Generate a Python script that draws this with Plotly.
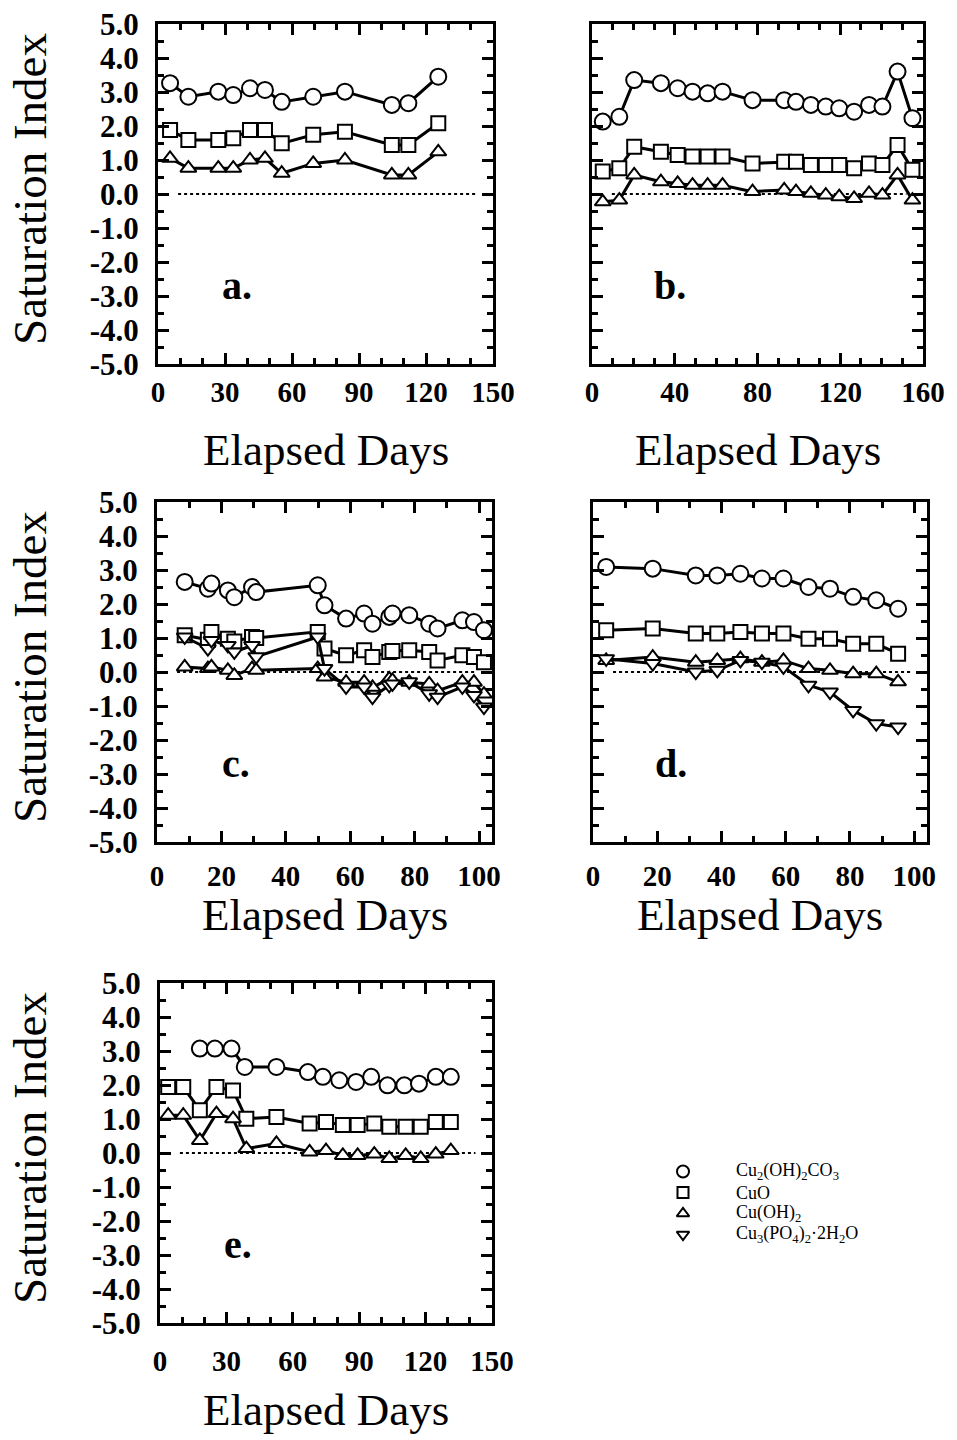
import plotly.graph_objects as go

W, H = 957, 1440

# ---------------- data ----------------
# panel a
a_x = [5.4, 13.6, 27.0, 33.7, 41.2, 47.9, 55.4, 69.5, 83.7, 104.7, 112.1, 125.5]
a_malachite = [3.26, 2.86, 3.01, 2.91, 3.11, 3.06, 2.71, 2.86, 3.01, 2.62, 2.67, 3.45]
a_tenorite = [1.88, 1.59, 1.59, 1.64, 1.88, 1.88, 1.49, 1.74, 1.83, 1.44, 1.44, 2.08]
a_cuoh2 = [1.05, 0.76, 0.76, 0.76, 1.00, 1.05, 0.61, 0.90, 1.00, 0.56, 0.56, 1.24]

# panel b
b_x = [5.2, 13.2, 20.4, 33.3, 41.4, 48.6, 55.9, 63.1, 77.6, 92.9, 98.6, 105.8,
       113.0, 119.5, 126.7, 133.9, 140.4, 147.7, 154.9]
b_malachite = [2.13, 2.27, 3.35, 3.26, 3.11, 3.01, 2.96, 3.01, 2.76, 2.76, 2.71, 2.62,
               2.57, 2.52, 2.42, 2.62, 2.57, 3.60, 2.23]
b_tenorite = [0.66, 0.76, 1.39, 1.24, 1.15, 1.10, 1.10, 1.10, 0.90, 0.95, 0.95, 0.85,
              0.85, 0.85, 0.76, 0.90, 0.85, 1.44, 0.71]
b_cuoh2 = [-0.23, -0.18, 0.56, 0.36, 0.31, 0.26, 0.26, 0.26, 0.07, 0.12, 0.07, 0.02,
           -0.03, -0.08, -0.13, 0.02, -0.03, 0.56, -0.18]

# panel c
c_x = [8.6, 15.8, 16.9, 22.0, 24.0, 29.5, 30.8, 49.9, 52.0, 58.7, 64.3, 66.9, 72.1,
       73.1, 78.3, 84.5, 87.1, 94.8, 98.4, 101.5]
c_malachite = [2.65, 2.45, 2.60, 2.40, 2.20, 2.50, 2.35, 2.55, 1.96, 1.57, 1.72, 1.42,
               1.62, 1.72, 1.67, 1.42, 1.28, 1.52, 1.47, 1.23]
c_tenorite = [1.08, 0.95, 1.18, 0.98, 0.90, 1.03, 1.00, 1.18, 0.69, 0.49, 0.64, 0.44,
              0.59, 0.62, 0.64, 0.59, 0.34, 0.49, 0.44, 0.29]
c_cuoh2 = [0.15, 0.10, 0.15, 0.05, -0.10, 0.10, 0.05, 0.10, -0.15, -0.30, -0.30, -0.45,
           -0.20, -0.25, -0.30, -0.35, -0.55, -0.30, -0.30, -0.65]
c_phosphate = [1.03, 0.69, 0.93, 0.78, 0.59, 0.78, 0.45, 1.03, 0.10, -0.44, -0.44, -0.74,
               -0.39, -0.35, -0.29, -0.64, -0.74, -0.44, -0.69, -1.03]

# panel d
d_x = [4.1, 18.6, 32.0, 38.7, 45.9, 52.6, 59.3, 67.1, 73.8, 81.0, 88.2, 95.0]
d_malachite = [3.09, 3.04, 2.84, 2.84, 2.89, 2.75, 2.75, 2.50, 2.45, 2.21, 2.11, 1.86]
d_tenorite = [1.23, 1.28, 1.13, 1.13, 1.18, 1.13, 1.13, 0.98, 0.98, 0.83, 0.83, 0.54]
d_cuoh2 = [0.34, 0.44, 0.29, 0.34, 0.39, 0.29, 0.34, 0.10, 0.05, -0.05, -0.05, -0.29]
d_phosphate = [0.39, 0.25, 0.00, 0.05, 0.34, 0.29, 0.15, -0.39, -0.59, -1.13, -1.52, -1.62]

# panel e
e_x_malachite = [18.0, 24.8, 32.3, 38.3, 52.6, 66.8, 73.6, 81.0, 88.6, 95.4, 102.8,
                 110.4, 117.0, 124.6, 131.4]
e_malachite = [3.07, 3.07, 3.07, 2.53, 2.53, 2.38, 2.24, 2.14, 2.09, 2.24, 1.99, 1.99,
               2.04, 2.24, 2.24]
e_x = [3.7, 10.5, 18.0, 25.5, 33.0, 39.0, 52.6, 67.6, 75.0, 82.6, 89.3, 96.8, 103.6,
       111.0, 117.8, 124.6, 131.4]
e_tenorite = [1.94, 1.94, 1.26, 1.94, 1.84, 1.01, 1.06, 0.87, 0.91, 0.82, 0.82, 0.87,
              0.77, 0.77, 0.77, 0.91, 0.91]
e_cuoh2 = [1.11, 1.11, 0.37, 1.16, 1.01, 0.13, 0.28, 0.03, 0.07, -0.07, -0.07, -0.03,
           -0.16, -0.07, -0.16, -0.03, 0.07]

# tick labels
y_tickvals = [5, 4, 3, 2, 1, 0, -1, -2, -3, -4, -5]
y_ticktext = ["5.0", "4.0", "3.0", "2.0", "1.0", "0.0", "-1.0", "-2.0", "-3.0", "-4.0", "-5.0"]

species_names = ["Cu<sub>2</sub>(OH)<sub>2</sub>CO<sub>3</sub>", "CuO",
                 "Cu(OH)<sub>2</sub>", "Cu<sub>3</sub>(PO<sub>4</sub>)<sub>2</sub>\u00b72H<sub>2</sub>O"]
panel_letters = ["a.", "b.", "c.", "d.", "e."]

# ---------------- styling ----------------
FONT = "Liberation Serif, Times New Roman, serif"
SYMBOLS = ["circle", "square", "triangle-up", "triangle-down"]
SIZES = [16, 14, 14, 14]


def dom_x(p0, p1):
    return [p0 / W, p1 / W]


def dom_y(top, bottom):
    return [1 - bottom / H, 1 - top / H]


# panel frames in pixels: (left, right, top, bottom), x range, x tick step,
# tick-label standoff and distance from frame bottom to the x title
panels = [
    dict(box=(158, 493, 24, 364), xr=[0, 150], dt=30, ylab=True, so=0, tt=86),
    dict(box=(592, 923, 24, 364), xr=[0, 160], dt=40, ylab=False, so=0, tt=86),
    dict(box=(157, 492, 502, 842), xr=[0, 104], dt=20, ylab=True, so=6, tt=73),
    dict(box=(593, 927, 502, 842), xr=[0, 104], dt=20, ylab=False, so=6, tt=73),
    dict(box=(160, 492, 983, 1323), xr=[0, 150], dt=30, ylab=True, so=10, tt=87),
]

series = [
    [(a_x, a_malachite), (a_x, a_tenorite), (a_x, a_cuoh2)],
    [(b_x, b_malachite), (b_x, b_tenorite), (b_x, b_cuoh2)],
    [(c_x, c_malachite), (c_x, c_tenorite), (c_x, c_cuoh2), (c_x, c_phosphate)],
    [(d_x, d_malachite), (d_x, d_tenorite), (d_x, d_cuoh2), (d_x, d_phosphate)],
    [(e_x_malachite, e_malachite), (e_x, e_tenorite), (e_x, e_cuoh2)],
]

fig = go.Figure()
layout = dict(
    template="none",
    width=W, height=H, margin=dict(l=0, r=0, t=0, b=0, pad=0, autoexpand=False),
    paper_bgcolor="white", plot_bgcolor="white",
    font=dict(family=FONT, color="black"),
    showlegend=False,
)

annotations = []
shapes = []

for i, p in enumerate(panels):
    n = i + 1
    xa = "x" if n == 1 else f"x{n}"
    ya = "y" if n == 1 else f"y{n}"
    xkey = "xaxis" if n == 1 else f"xaxis{n}"
    ykey = "yaxis" if n == 1 else f"yaxis{n}"
    L, R, T, B = p["box"]
    layout[xkey] = dict(
        domain=dom_x(L, R), anchor=ya, range=p["xr"], dtick=p["dt"], tick0=0,
        showline=True, linewidth=3, linecolor="black", mirror="allticks",
        ticks="inside", ticklen=11, tickwidth=3, tickcolor="black",
        minor=dict(dtick=10, tick0=0, ticks="inside", ticklen=6, tickwidth=3,
                   tickcolor="black", showgrid=False),
        showgrid=False, zeroline=False, fixedrange=True, automargin=False,
        tickfont=dict(size=29, family=FONT, color="black", weight="bold"),
        ticklabelstandoff=p["so"],
    )
    layout[ykey] = dict(
        domain=dom_y(T, B), anchor=xa, range=[-5, 5],
        tickmode="array", tickvals=y_tickvals, ticktext=y_ticktext,
        showticklabels=p["ylab"],
        showline=True, linewidth=3, linecolor="black", mirror="allticks",
        ticks="inside", ticklen=11, tickwidth=3, tickcolor="black",
        minor=dict(dtick=0.5, tick0=0, ticks="inside", ticklen=6, tickwidth=3,
                   tickcolor="black", showgrid=False),
        showgrid=False, zeroline=False, fixedrange=True, automargin=False,
        tickfont=dict(size=31, family=FONT, color="black", weight="bold"),
        ticklabelstandoff=10,
    )

    # dotted reference line at zero saturation
    shapes.append(dict(type="line", xref=f"{xa} domain", yref=ya, x0=0.06, x1=0.95,
                       y0=0, y1=0, line=dict(color="black", width=2, dash="dot"),
                       layer="below"))

    for k, (xs, ys) in enumerate(series[i]):
        fig.add_trace(go.Scatter(
            x=xs, y=ys, xaxis=xa, yaxis=ya, mode="lines+markers",
            line=dict(color="black", width=3),
            marker=dict(symbol=SYMBOLS[k], size=SIZES[k], color="white",
                        line=dict(color="black", width=2)),
            showlegend=False, hoverinfo="skip",
        ))

    # axis titles
    cx = (L + R) / 2
    annotations.append(dict(
        text="Elapsed Days", xref="paper", yref="paper", x=cx / W,
        y=1 - (B + p["tt"]) / H, xanchor="center", yanchor="middle", showarrow=False,
        font=dict(size=45, family=FONT, color="black")))
    if p["ylab"]:
        annotations.append(dict(
            text="Saturation Index", xref="paper", yref="paper", x=30 / W,
            y=1 - ((T + B) / 2 - 5) / H, xanchor="center", yanchor="middle",
            textangle=-90, showarrow=False,
            font=dict(size=47, family=FONT, color="black")))
    # panel letter
    annotations.append(dict(
        text=f"<b>{panel_letters[i]}</b>", xref=f"{xa} domain", yref=f"{ya} domain",
        x=0.235, y=0.23, xanchor="center", yanchor="middle", showarrow=False,
        font=dict(size=40, family=FONT, color="black")))

# key: one symbol per row on a small auxiliary axis, names as text beside it
rows = list(range(len(species_names)))
layout["xaxis6"] = dict(domain=dom_x(668, 698), range=[-1, 1], visible=False,
                        fixedrange=True, anchor="y6")
layout["yaxis6"] = dict(domain=dom_y(1161, 1245), range=[len(rows) - 0.5, -0.5],
                        visible=False, fixedrange=True, anchor="x6")
for k in rows:
    fig.add_trace(go.Scatter(
        x=[0], y=[k], xaxis="x6", yaxis="y6", mode="markers",
        marker=dict(symbol=SYMBOLS[k], size=12 if k == 0 else 11, color="white",
                    line=dict(color="black", width=2)),
        showlegend=False, hoverinfo="skip", cliponaxis=False))
    annotations.append(dict(
        text=species_names[k], xref="paper", yref="y6", x=734 / W, y=k,
        xanchor="left", yanchor="middle", showarrow=False,
        font=dict(size=18, family=FONT, color="black")))

layout["annotations"] = annotations
layout["shapes"] = shapes
fig.update_layout(**layout)

fig.write_html("out.html")
